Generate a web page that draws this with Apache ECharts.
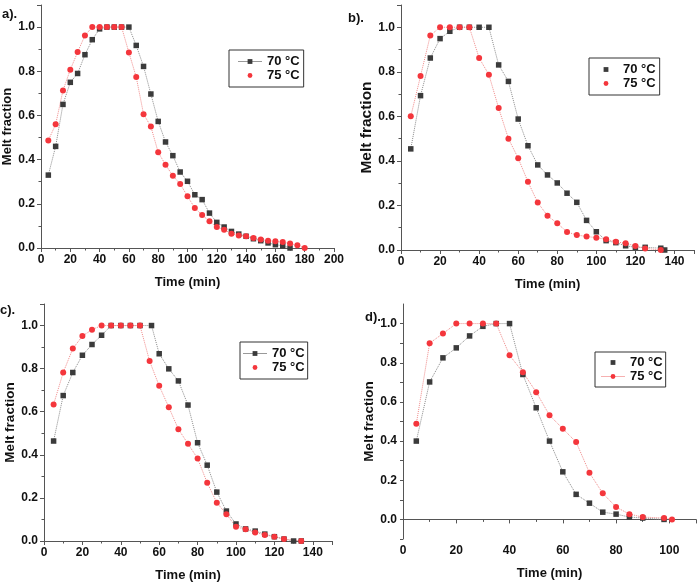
<!DOCTYPE html>
<html>
<head>
<meta charset="utf-8">
<script src="https://cdn.jsdelivr.net/npm/echarts@6/dist/echarts.min.js"></script>
<style>
html, body { margin: 0; padding: 0; background: #fff; }
#chart { width: 698px; height: 584px; }
</style>
</head>
<body>
<div id="chart"></div>
<script>
// panel a
var timeA70 = [5, 10, 15, 20, 25, 30, 35, 40, 45, 50, 55, 60, 65, 70, 75, 80, 85, 90, 95, 100, 105, 110, 115, 120, 125, 130, 135, 140, 145, 150, 155, 160, 165, 170];
var meltA70 = [0.33, 0.46, 0.65, 0.75, 0.79, 0.875, 0.943, 0.992, 1, 1, 1, 1, 0.917, 0.822, 0.697, 0.573, 0.48, 0.418, 0.344, 0.302, 0.241, 0.219, 0.158, 0.116, 0.095, 0.075, 0.063, 0.053, 0.042, 0.033, 0.023, 0.015, 0.01, 0];
var timeA75 = [5, 10, 15, 20, 25, 30, 35, 40, 45, 50, 55, 60, 65, 70, 75, 80, 85, 90, 95, 100, 105, 110, 115, 120, 125, 130, 135, 140, 145, 150, 155, 160, 165, 170, 175, 180];
var meltA75 = [0.487, 0.56, 0.713, 0.807, 0.887, 0.962, 1, 1, 1, 1, 1, 0.885, 0.774, 0.606, 0.55, 0.433, 0.377, 0.327, 0.29, 0.234, 0.181, 0.149, 0.121, 0.095, 0.083, 0.065, 0.057, 0.053, 0.045, 0.038, 0.033, 0.03, 0.027, 0.02, 0.012, 0];

// panel b
var timeB70 = [5, 10, 15, 20, 25, 30, 35, 40, 45, 50, 55, 60, 65, 70, 75, 80, 85, 90, 95, 100, 105, 110, 115, 120, 125, 133, 135];
var meltB70 = [0.454, 0.693, 0.862, 0.949, 0.982, 1, 1, 1, 1, 0.831, 0.757, 0.588, 0.468, 0.382, 0.337, 0.301, 0.255, 0.214, 0.133, 0.082, 0.042, 0.033, 0.019, 0.012, 0.012, 0.008, 0];
var timeB75 = [5, 10, 15, 20, 25, 30, 35, 40, 45, 50, 55, 60, 65, 70, 75, 80, 85, 90, 95, 100, 105, 110, 115, 120, 125, 133];
var meltB75 = [0.6, 0.781, 0.963, 1, 1, 1, 1, 0.862, 0.787, 0.637, 0.5, 0.412, 0.306, 0.213, 0.154, 0.12, 0.081, 0.067, 0.061, 0.055, 0.048, 0.037, 0.03, 0.018, 0.007, 0];

// panel c
var timeC70 = [5, 10, 15, 20, 25, 30, 35, 40, 45, 50, 56, 60, 65, 70, 75, 80, 85, 90, 95, 100, 105, 110, 115, 120, 125, 130, 134];
var meltC70 = [0.464, 0.675, 0.782, 0.862, 0.912, 0.955, 1, 1, 1, 1, 1, 0.869, 0.799, 0.743, 0.631, 0.456, 0.352, 0.227, 0.139, 0.079, 0.056, 0.046, 0.032, 0.02, 0.009, 0, 0];
var timeC75 = [5, 10, 15, 20, 25, 30, 35, 40, 45, 50, 55, 60, 65, 70, 75, 80, 85, 90, 95, 100, 105, 110, 115, 120, 125, 134];
var meltC75 = [0.634, 0.782, 0.893, 0.951, 0.981, 1, 1, 1, 1, 1, 0.835, 0.72, 0.621, 0.519, 0.451, 0.383, 0.27, 0.178, 0.124, 0.066, 0.054, 0.04, 0.028, 0.02, 0.009, 0];

// panel d
var timeD70 = [5, 10, 15, 20, 25, 30, 35, 40, 45, 50, 55, 60, 65, 70, 75, 80, 85, 90, 98];
var meltD70 = [0.4, 0.702, 0.825, 0.876, 0.937, 0.986, 1, 1, 0.74, 0.57, 0.4, 0.243, 0.128, 0.083, 0.037, 0.027, 0.012, 0.007, 0];
var timeD75 = [5, 10, 15, 20, 25, 30, 35, 40, 45, 50, 55, 60, 65, 70, 75, 80, 85, 90, 98, 101];
var meltD75 = [0.488, 0.9, 0.949, 1, 1, 1, 1, 0.838, 0.752, 0.65, 0.532, 0.463, 0.395, 0.238, 0.133, 0.063, 0.027, 0.012, 0.007, 0];

var panelLabels = ['a).', 'b).', 'c).', 'd).'];
var seriesNames = ['70 °C', '75 °C'];
var xTitle = 'Time (min)';
var yTitle = 'Melt fraction';

var FONT = 'Liberation Sans';
var GREY = '#3b3b3b';
var RED = '#f4363c';
var AXIS = '#555';

function pairs(xs, ys) {
    return xs.map(function (x, i) { return [x, ys[i]]; });
}

function xAxisFor(idx, max, showMax) {
    return {
        type: 'value', gridIndex: idx, min: 0, max: max, interval: 20,
        name: xTitle, nameLocation: 'middle', nameGap: 28,
        nameTextStyle: {fontFamily: FONT, fontWeight: 'bold', fontSize: 13, color: '#111'},
        axisLine: {lineStyle: {color: AXIS, width: 1}},
        axisTick: {length: 4, lineStyle: {color: AXIS}},
        minorTick: {show: true, splitNumber: 2, length: 2.5, lineStyle: {color: AXIS}},
        axisLabel: {fontFamily: FONT, fontWeight: 'bold', fontSize: 12, color: '#111', margin: 6, showMaxLabel: showMax},
        splitLine: {show: false}
    };
}

function yAxisFor(idx, nameSize, nameGap) {
    return {
        type: 'value', gridIndex: idx, min: 0, max: 1.1, interval: 0.2,
        name: yTitle, nameLocation: 'middle', nameGap: nameGap,
        nameTextStyle: {fontFamily: FONT, fontWeight: 'bold', fontSize: nameSize, color: '#111'},
        axisLine: {show: true, lineStyle: {color: AXIS, width: 1}},
        axisTick: {show: true, length: 4, lineStyle: {color: AXIS}},
        minorTick: {show: true, splitNumber: 2, length: 2.5, lineStyle: {color: AXIS}},
        axisLabel: {
            fontFamily: FONT, fontWeight: 'bold', fontSize: 12, color: '#111', margin: 6,
            showMaxLabel: false,
            formatter: function (v) { return v.toFixed(1); }
        },
        splitLine: {show: false}
    };
}

// panel d goes below zero, so step by 0.1 and label every other tick
var yAxisD = yAxisFor(3, 13.5, 22);
yAxisD.min = -0.1;
yAxisD.interval = 0.1;
yAxisD.minorTick = {show: false};
yAxisD.axisTick.length = 3;
yAxisD.axisLabel.formatter = function (v) {
    var t = Math.round(v * 10);
    if (t < 0 || t > 10 || t % 2 !== 0) return '';
    return (t / 10).toFixed(1);
};

function series70(idx, xs, ys) {
    return {
        name: seriesNames[0], type: 'line', xAxisIndex: idx, yAxisIndex: idx,
        data: pairs(xs, ys), symbol: 'rect', symbolSize: 5.5,
        itemStyle: {color: GREY},
        lineStyle: {color: '#8a8a8a', width: 1, type: 'dotted'}
    };
}

function series75(idx, xs, ys) {
    return {
        name: seriesNames[1], type: 'line', xAxisIndex: idx, yAxisIndex: idx,
        data: pairs(xs, ys), symbol: 'circle', symbolSize: 6,
        itemStyle: {color: RED},
        lineStyle: {color: '#f08a8a', width: 1, type: 'dotted'}
    };
}

function legendAt(left, top, pad, line70, line75) {
    return {
        left: left, top: top, orient: 'vertical',
        padding: pad, itemGap: 1, itemWidth: 24, itemHeight: 6,
        borderColor: '#333', borderWidth: 1,
        textStyle: {fontFamily: FONT, fontWeight: 'bold', fontSize: 13, color: '#111'},
        data: [
            {name: seriesNames[0], lineStyle: line70 ? {type: 'solid', color: '#999', width: 1, opacity: 1} : {opacity: 0}},
            {name: seriesNames[1], lineStyle: line75 ? {type: 'solid', color: '#f6b0b0', width: 1, opacity: 1} : {opacity: 0}}
        ]
    };
}

function titleAt(text, left, top) {
    return {text: text, left: left, top: top, padding: 0,
        textStyle: {fontFamily: FONT, fontWeight: 'bold', fontSize: 13, color: '#111'}};
}

var myChart = echarts.init(document.getElementById('chart'));
var option = {
    animation: false,
    backgroundColor: '#fff',
    title: [
        titleAt(panelLabels[0], 2, 8),
        titleAt(panelLabels[1], 348, 12),
        titleAt(panelLabels[2], 0, 304),
        titleAt(panelLabels[3], 365, 311)
    ],
    legend: [
        legendAt(229, 50, [5, 4, 5, 8], true, false),
        legendAt(589, 58, [5, 4, 5, 4], false, false),
        legendAt(240, 342, [5, 3, 5, 2], true, false),
        legendAt(595, 352, [4, 3, 4, 5], false, true)
    ],
    grid: [
        {left: 41, top: 5, width: 293, height: 243},
        {left: 401, top: 5, width: 293, height: 245},
        {left: 44, top: 304, width: 288, height: 237},
        {left: 403, top: 304, width: 293, height: 235}
    ],
    xAxis: [
        xAxisFor(0, 200, true),
        xAxisFor(1, 150, false),
        xAxisFor(2, 150, false),
        xAxisFor(3, 110, false)
    ],
    yAxis: [
        yAxisFor(0, 13, 23),
        yAxisFor(1, 15.5, 25),
        yAxisFor(2, 13.5, 23),
        yAxisD
    ],
    series: [
        series70(0, timeA70, meltA70), series75(0, timeA75, meltA75),
        series70(1, timeB70, meltB70), series75(1, timeB75, meltB75),
        series70(2, timeC70, meltC70), series75(2, timeC75, meltC75),
        series70(3, timeD70, meltD70), series75(3, timeD75, meltD75)
    ]
};
myChart.setOption(option, true);
</script>
</body>
</html>
